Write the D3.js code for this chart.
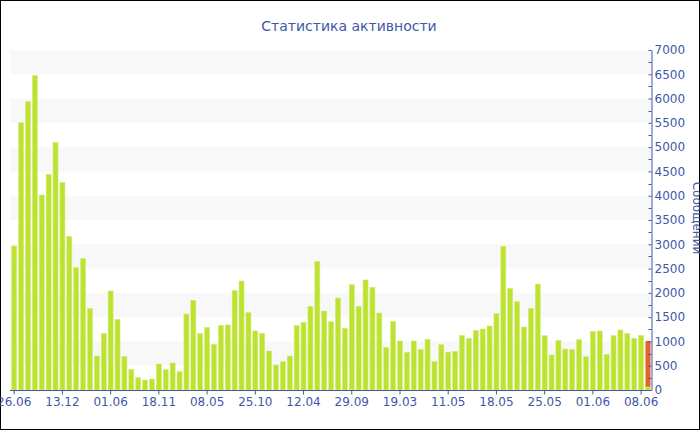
<!DOCTYPE html>
<html><head><meta charset="utf-8">
<script src="https://cdn.jsdelivr.net/npm/d3@7"></script>
<style>
html,body{margin:0;padding:0;background:#fff;}
svg{display:block;}
text{font-family:"DejaVu Sans",Verdana,sans-serif;}
</style></head>
<body>
<script>
// ---- data ----
const categories = d3.range(93).map(i => "b" + i);
const values = [2965,5503,5936,6472,4015,4440,5099,4275,3164,2519,2711,1681,700,1166,2038,1455,687,425,254,206,226,535,419,556,
  377,1565,1846,1160,1290,940,1331,1340,2045,2244,1592,1215,1167,803,515,583,700,1324,1393,1723,2649,1626,1407,1894,1268,2169,
  1723,2265,2114,1585,878,1413,1009,775,1009,837,1043,583,933,780,796,1125,1064,1229,1256,1318,1571,2958,2093,1818,
  1297,1681,2182,1118,720,1022,844,837,1036,687,1207,1215,734,1118,1235,1167,1064,1125,69];
const extraValues = categories.map((c, i) => i === 92 ? 940 : 0);
const tickLabels = ["26.06","13.12","01.06","18.11","08.05","25.10","12.04","29.09","19.03","11.05","18.05","25.05","01.06","08.06"];
const tickIndices = [0,7,14,21,28,35,42,49,56,63,70,77,84,91];
const yTicks = [0,500,1000,1500,2000,2500,3000,3500,4000,4500,5000,5500,6000,6500,7000];
const bandStarts = [500,1500,2500,3500,4500,5500,6500];
const title = "Статистика активности";
const yTitle = "Сообщений";

const W = 700, H = 430;
const blue = "#4058a6";
const svg = d3.select("body").append("svg").attr("width", W).attr("height", H);
svg.append("rect").attr("x",0.5).attr("y",0.5).attr("width",W-1).attr("height",H-1)
  .attr("fill","#fff").attr("stroke","#000").attr("stroke-width",1);

const x = d3.scaleBand().domain(categories).range([11.2, 651]).paddingInner(0.27).paddingOuter(0.07);
const y = d3.scaleLinear().domain([0, 7000]).range([390, 50]);
const plotL = 10, plotR = 651.5;

// bands
svg.append("g").selectAll("rect").data(bandStarts).join("rect")
  .attr("x", plotL).attr("width", plotR - plotL)
  .attr("y", d => y(d + 500)).attr("height", d => y(d) - y(d + 500))
  .attr("fill", "#f8f8f8");

// bars
const g = svg.append("g");
g.selectAll("rect.main").data(categories).join("rect").attr("class","main")
  .attr("x", c => x(c)).attr("width", x.bandwidth())
  .attr("y", (c, i) => y(values[i])).attr("height", (c, i) => y(0) - y(values[i]))
  .attr("fill", "#bde22f").attr("stroke", "#d3ec7c").attr("stroke-width", 0.6);
g.selectAll("rect.extra").data(categories.filter((c, i) => extraValues[i] > 0)).join("rect").attr("class","extra")
  .attr("x", c => x(c)).attr("width", x.bandwidth())
  .attr("y", c => { const i = categories.indexOf(c); return y(values[i] + extraValues[i]); })
  .attr("height", c => { const i = categories.indexOf(c); return y(values[i]) - y(values[i] + extraValues[i]); })
  .attr("fill", "#e4622c");

// x axis
const xAxis = d3.axisBottom(x)
  .tickValues(tickIndices.map(i => categories[i]))
  .tickFormat(c => tickLabels[tickIndices.indexOf(categories.indexOf(c))])
  .tickSizeInner(4).tickSizeOuter(0).tickPadding(3);
const gx = svg.append("g").attr("transform", "translate(0,390.5)").call(xAxis);
gx.select(".domain").remove();
gx.append("line").attr("x1", plotL).attr("x2", plotR).attr("stroke", blue);
gx.selectAll(".tick line").attr("stroke", blue);
gx.selectAll(".tick text").attr("fill", blue).style("font-size", "12px").style("font-family", '"DejaVu Sans",Verdana,sans-serif');

// y axis (right)
const minor = d3.range(250, 7000, 500);
svg.append("g").selectAll("line").data(minor).join("line")
  .attr("x1", plotR - 3).attr("x2", plotR).attr("y1", d => Math.round(y(d)) + 0.5).attr("y2", d => Math.round(y(d)) + 0.5)
  .attr("stroke", blue);
const yAxis = d3.axisLeft(y).tickValues(yTicks).tickSizeInner(3).tickSizeOuter(0).tickFormat(d3.format("d"));
const gy = svg.append("g").attr("transform", `translate(${plotR},0)`).call(yAxis);
gy.select(".domain").attr("stroke", blue);
gy.selectAll(".tick line").attr("stroke", blue);
gy.selectAll(".tick text").attr("fill", blue).attr("text-anchor", "start").attr("x", 3)
  .style("font-size", "12px").style("font-family", '"DejaVu Sans",Verdana,sans-serif');

// titles
svg.append("text").attr("x", 349).attr("y", 31).attr("text-anchor", "middle")
  .attr("fill", blue).style("font-size", "14px").text(title);
svg.append("text").attr("transform", "translate(693,218) rotate(90)").attr("text-anchor", "middle")
  .attr("fill", blue).style("font-size", "12px").text(yTitle);
</script>
</body></html>
